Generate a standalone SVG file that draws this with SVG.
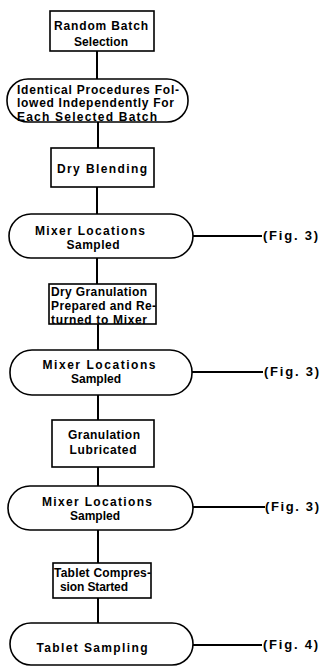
<svg xmlns="http://www.w3.org/2000/svg" width="323" height="666" viewBox="0 0 323 666">
<style>
.s{fill:none;stroke:#000;stroke-width:1.6}
.c{fill:none;stroke:#000;stroke-width:2}
text{font-family:"Liberation Sans",Arial,sans-serif;font-weight:bold;font-size:12px;fill:#000}
.m{text-anchor:middle}
.f{font-size:13px}
</style>
<rect width="323" height="666" fill="#fff"/>
<g id="connectors">
<line class="c" x1="97" y1="51" x2="97" y2="79"/>
<line class="c" x1="98" y1="122" x2="98" y2="148"/>
<line class="c" x1="97" y1="187" x2="97" y2="214"/>
<line class="c" x1="97" y1="258" x2="97" y2="284"/>
<line class="c" x1="98" y1="324" x2="98" y2="350"/>
<line class="c" x1="98" y1="395" x2="98" y2="420"/>
<line class="c" x1="98" y1="467" x2="98" y2="486"/>
<line class="c" x1="98" y1="530" x2="98" y2="563"/>
<line class="c" x1="98" y1="598" x2="98" y2="623"/>
<line class="c" x1="193" y1="236" x2="262" y2="236"/>
<line class="c" x1="192" y1="372" x2="263" y2="372"/>
<line class="c" x1="193" y1="507" x2="265" y2="507"/>
<line class="c" x1="193" y1="645" x2="262" y2="645"/>
</g>
<g id="n1">
<rect class="s" x="50" y="11" width="104" height="40"/>
<text class="m" x="101" y="30" textLength="94" lengthAdjust="spacing">Random Batch</text>
<text class="m" x="101" y="46" textLength="54" lengthAdjust="spacing">Selection</text>
</g>
<g id="n2">
<rect class="s" x="7" y="79" width="181" height="43" rx="21" ry="21"/>
<text x="17" y="94" textLength="162" lengthAdjust="spacing">Identical Procedures Fol-</text>
<text x="17" y="107" textLength="157" lengthAdjust="spacing">lowed Independently For</text>
<text x="17" y="121" textLength="140" lengthAdjust="spacing">Each Selected Batch</text>
</g>
<g id="n3">
<rect class="s" x="51" y="148" width="103" height="39"/>
<text class="m" x="102" y="173" textLength="90" lengthAdjust="spacing">Dry Blending</text>
</g>
<g id="n4">
<rect class="s" x="9" y="214" width="184" height="44" rx="22" ry="22"/>
<text class="m" x="90" y="235" textLength="110" lengthAdjust="spacing">Mixer Locations</text>
<text class="m" x="93" y="249" textLength="53" lengthAdjust="spacing">Sampled</text>
</g>
<g id="f1"><text class="f" x="263" y="240" textLength="55" lengthAdjust="spacing">(Fig. 3)</text></g>
<g id="n5">
<rect class="s" x="49" y="284" width="107" height="40"/>
<text x="51" y="296" textLength="96" lengthAdjust="spacing">Dry Granulation</text>
<text x="51" y="310" textLength="105" lengthAdjust="spacing">Prepared and Re-</text>
<text x="51" y="324" textLength="96" lengthAdjust="spacing">turned to Mixer</text>
</g>
<g id="n6">
<rect class="s" x="10" y="350" width="182" height="45" rx="22" ry="22"/>
<text class="m" x="99" y="369" textLength="113" lengthAdjust="spacing">Mixer Locations</text>
<text class="m" x="96" y="383" textLength="50" lengthAdjust="spacing">Sampled</text>
</g>
<g id="f2"><text class="f" x="264" y="376" textLength="55" lengthAdjust="spacing">(Fig. 3)</text></g>
<g id="n7">
<rect class="s" x="52" y="420" width="102" height="47"/>
<text class="m" x="104" y="439" textLength="72" lengthAdjust="spacing">Granulation</text>
<text class="m" x="103" y="454" textLength="67" lengthAdjust="spacing">Lubricated</text>
</g>
<g id="n8">
<rect class="s" x="8" y="486" width="185" height="44" rx="22" ry="22"/>
<text class="m" x="97" y="506" textLength="110" lengthAdjust="spacing">Mixer Locations</text>
<text class="m" x="95" y="520" textLength="50" lengthAdjust="spacing">Sampled</text>
</g>
<g id="f3"><text class="f" x="265" y="511" textLength="54" lengthAdjust="spacing">(Fig. 3)</text></g>
<g id="n9">
<rect class="s" x="53" y="563" width="98" height="35"/>
<text x="54" y="577" textLength="97" lengthAdjust="spacing">Tablet Compres-</text>
<text x="60" y="591" textLength="68" lengthAdjust="spacing">sion Started</text>
</g>
<g id="n10">
<rect class="s" x="10" y="623" width="183" height="42" rx="21" ry="21"/>
<text class="m" x="92" y="652" textLength="111" lengthAdjust="spacing">Tablet Sampling</text>
</g>
<g id="f4"><text class="f" x="263" y="649" textLength="55" lengthAdjust="spacing">(Fig. 4)</text></g>
</svg>
